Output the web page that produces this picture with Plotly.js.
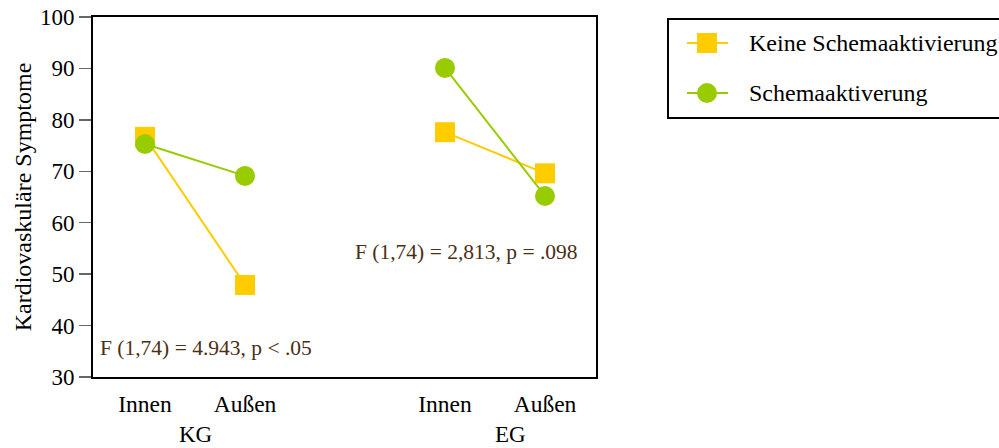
<!DOCTYPE html>
<html>
<head>
<meta charset="utf-8">
<script src="https://cdn.plot.ly/plotly-3.0.1.min.js"></script>
<style>html,body{margin:0;padding:0;background:#fff;}#chart{width:999px;height:448px;}</style>
</head>
<body>
<div id="chart"></div>
<script>
// Groups and measurement conditions
const groups = ["KG", "EG"];
const groupCenters = [1.5, 4.65];
const conditions = ["Innen", "Außen"];
const conditionPositions = [1, 2, 4, 5];
const conditionLabels = ["Innen", "Außen", "Innen", "Außen"];

// Series names
const seriesNames = ["Keine Schemaaktivierung", "Schemaaktiverung"];

// Mean cardiovascular symptoms per group (Innen, Außen)
const keineSchema = { KG: [76.7, 47.9], EG: [77.6, 69.6] };
const schema = { KG: [75.3, 69.1], EG: [90.1, 65.2] };

// F-test results per group
const statsText = ["F (1,74) = 4.943, p < .05", "F (1,74) = 2,813, p = .098"];
const statsX = [1.61, 4.21];
const statsY = [35.6, 54.3];

const FONT = "'Liberation Serif', 'Times New Roman', Times, serif";
const YELLOW = "#ffcc00", GREEN = "#99cc00";

// Build x/y arrays with a gap between groups so lines stay within each group
function series(values) {
  const x = [], y = [];
  groups.forEach((g, gi) => {
    if (gi > 0) { x.push(null); y.push(null); }
    values[g].forEach((v, ci) => {
      x.push(conditionPositions[gi * conditions.length + ci]);
      y.push(v);
    });
  });
  return { x, y };
}

const s1 = series(keineSchema);
const s2 = series(schema);

const traces = [
  {
    x: s1.x, y: s1.y, name: seriesNames[0], type: "scatter",
    mode: "lines+markers", connectgaps: false,
    line: { color: YELLOW, width: 2 },
    marker: { symbol: "square", size: 20, color: YELLOW }
  },
  {
    x: s2.x, y: s2.y, name: seriesNames[1], type: "scatter",
    mode: "lines+markers", connectgaps: false,
    line: { color: GREEN, width: 2 },
    marker: { symbol: "circle", size: 20, color: GREEN }
  }
];

// Pixel -> paper helpers for the legend box placed right of the plot
const W = 999, H = 448, ML = 93, MR = 403, MT = 17, MB = 71;
const PW = W - ML - MR, PH = H - MT - MB;
const px = v => (v - ML) / PW;
const py = v => (H - MB - v) / PH;

// Legend: frame, sample line + marker and label for each series
const legendRows = [43, 93];
const legendShapes = [{
  type: "rect", xref: "paper", yref: "paper",
  x0: px(668), x1: px(1004), y0: py(118), y1: py(19),
  line: { color: "#000", width: 2 }, fillcolor: "rgba(0,0,0,0)"
}];
const legendColors = [YELLOW, GREEN];
const legendKinds = ["rect", "circle"];
legendRows.forEach((ry, i) => {
  legendShapes.push({
    type: "line", xref: "paper", yref: "paper",
    x0: px(687), x1: px(728), y0: py(ry), y1: py(ry),
    line: { color: legendColors[i], width: 2 }
  });
  legendShapes.push({
    type: legendKinds[i], xref: "paper", yref: "paper",
    x0: px(697), x1: px(717), y0: py(ry + 10), y1: py(ry - 10),
    line: { width: 0 }, fillcolor: legendColors[i]
  });
});
const legendLabels = seriesNames.map((n, i) => ({
  x: px(747), y: py(legendRows[i]), xref: "paper", yref: "paper", text: n,
  showarrow: false, xanchor: "left", yanchor: "middle",
  font: { family: FONT, size: 24, color: "#000" }
}));

const annotations = statsText.map((t, i) => ({
  x: statsX[i], y: statsY[i], xref: "x", yref: "y", text: t, showarrow: false,
  font: { family: FONT, size: 21.5, color: "#4a3015" }, xanchor: "center", yanchor: "middle"
})).concat(groups.map((g, i) => ({
  x: groupCenters[i], y: -0.16, xref: "x", yref: "paper", text: g, showarrow: false,
  font: { family: FONT, size: 23, color: "#000" }, xanchor: "center", yanchor: "middle"
}))).concat(legendLabels);

const layout = {
  width: W, height: H,
  margin: { l: ML, r: MR, t: MT, b: MB },
  paper_bgcolor: "#fff", plot_bgcolor: "#fff",
  font: { family: FONT, size: 23, color: "#000" },
  showlegend: false,
  shapes: legendShapes,
  xaxis: {
    range: [0.48, 5.51], tickvals: conditionPositions, ticktext: conditionLabels,
    showgrid: false, zeroline: false, showline: true, linecolor: "#000", linewidth: 2,
    mirror: true, ticks: "", ticklabelstandoff: 5, tickfont: { family: FONT, size: 23.5 }
  },
  yaxis: {
    range: [30, 100], dtick: 10, showgrid: false, zeroline: false,
    showline: true, linecolor: "#000", linewidth: 2, mirror: true,
    ticks: "outside", ticklen: 12, tickcolor: "#666", tickwidth: 1.5,
    tickfont: { family: FONT, size: 23 },
    title: { text: "Kardiovaskuläre Symptome", font: { family: FONT, size: 24 }, standoff: 2 }
  },
  annotations: annotations
};

Plotly.newPlot("chart", traces, layout, { displayModeBar: false, staticPlot: true });
</script>
</body>
</html>
